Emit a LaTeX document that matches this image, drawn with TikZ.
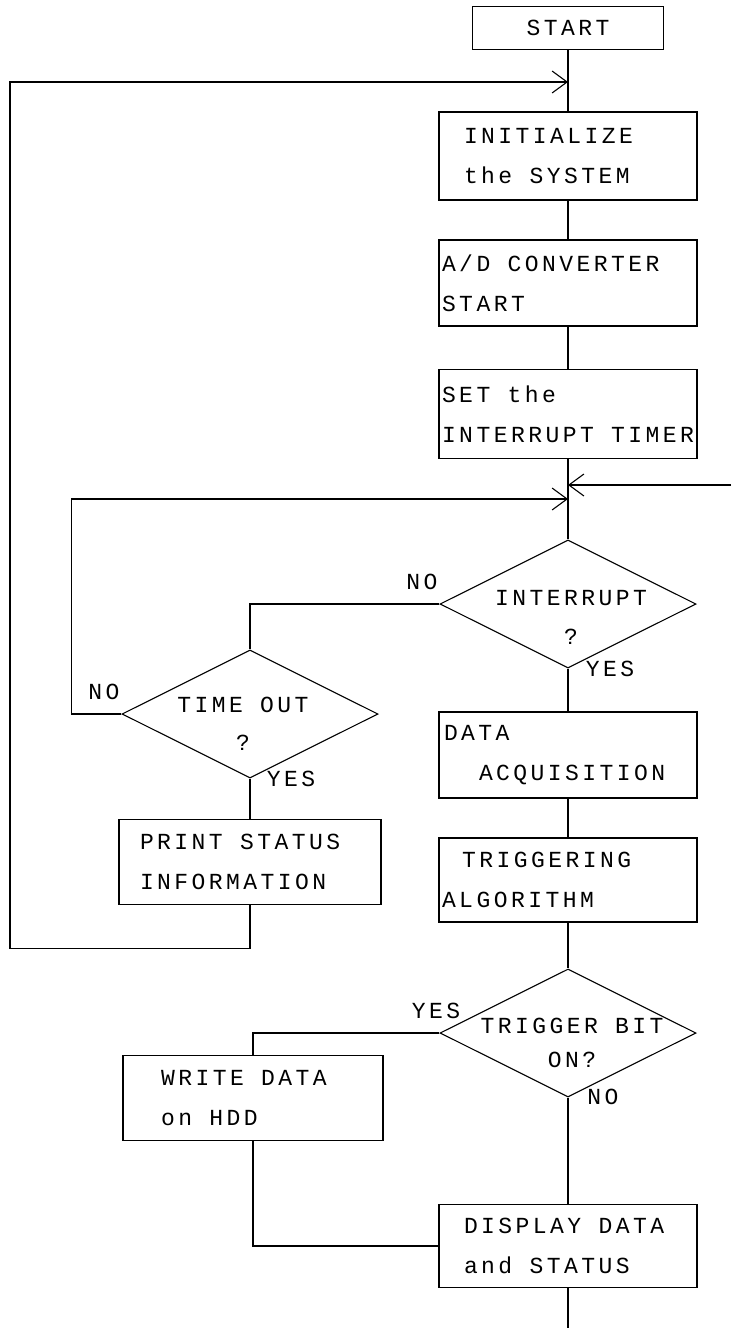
\documentclass[tikz,border=0pt]{standalone}
\usepackage{fontspec}
\setmainfont{Liberation Mono}[LetterSpace=15, WordSpace={1,0,0}]
\usetikzlibrary{shapes.geometric,arrows.meta}

\tikzset{
  caja/.style={draw, line width=1.1pt, minimum width=258pt, minimum height=86pt,
    inner xsep=3pt, inner ysep=0pt, text width=252pt, align=left,
    font=\fontsize{23}{40}\selectfont,
    execute at begin node={\spaceskip=0pt\xspaceskip=0pt\relax}},
  decision/.style={draw, diamond, line width=1.1pt, minimum width=256pt,
    minimum height=128pt, inner sep=0pt},
  texto/.style={align=center, inner sep=0pt, font=\fontsize{23}{39}\selectfont},
  rotulo/.style={inner sep=0pt, font=\fontsize{23}{28}\selectfont},
  linea/.style={line width=1.1pt},
  flecha/.style={line width=1.1pt, -{Straight Barb[length=15pt,width=22pt]}},
}

\begin{document}
\begin{tikzpicture}[x=1pt, y=-1pt]
  % Marco de la hoja
  \useasboundingbox (0,0) rectangle (731,1328);

  % Columna principal
  \node[caja, minimum width=191pt, minimum height=43pt, text width=185pt, align=center] (start) at (568,28) {START};
  \node[caja, minimum height=88pt] (init) at (568,156) {\hspace*{22pt}INITIALIZE\\\hspace*{22pt}the~SYSTEM};
  \node[caja] (adc) at (568,283) {A/D~CONVERTER\\START};
  \node[caja, minimum height=89pt] (set) at (568,414) {SET~the\\INTERRUPT~TIMER};
  \node[decision] (int) at (568,604) {};
  \node[texto] (intt) at (571,617) {INTERRUPT\\?};
  \node[caja] (data) at (568,755) {\hspace*{2pt}DATA\\\hspace*{37pt}ACQUISITION};
  \node[caja, minimum height=84pt] (trig) at (568,880) {\hspace*{20pt}TRIGGERING\\ALGORITHM};
  \node[decision] (tb) at (568,1033) {};
  \node[texto, font=\fontsize{23}{34}\selectfont] (tbt) at (572,1043) {TRIGGER~BIT\\ON?};
  \node[caja, minimum height=83pt] (disp) at (568,1246) {\hspace*{22pt}DISPLAY~DATA\\\hspace*{22pt}and~STATUS};

  % Columna izquierda
  \node[decision] (time) at (250,714) {};
  \node[texto, font=\fontsize{23}{38}\selectfont] (timet) at (243,724) {TIME~OUT\\?};
  \node[caja, minimum width=262pt, minimum height=85pt, text width=256pt] (print) at (250,862) {\hspace*{18pt}PRINT~STATUS\\\hspace*{18pt}INFORMATION};
  \node[caja, minimum width=260pt, minimum height=85pt, text width=254pt] (write) at (253,1098) {\hspace*{35pt}WRITE~DATA\\\hspace*{35pt}on~HDD};

  % Rotulos de las ramas
  \node[rotulo] (no1) at (422,582) {NO};
  \node[rotulo] (si1) at (610,669) {YES};
  \node[rotulo] (no2) at (104,692) {NO};
  \node[rotulo] (si2) at (291,779) {YES};
  \node[rotulo] (si3) at (436,1011) {YES};
  \node[rotulo] (no3) at (603,1097) {NO};

  % Puntos de union
  \coordinate (retorno) at (568,82);
  \coordinate (entrada) at (731,485);
  \coordinate (llegada) at (568,485);
  \coordinate (lazo) at (568,499);
  \coordinate (salida) at (568,1328);

  % Conexiones
  \draw[linea] (start) -- (init);
  \draw[linea] (init) -- (adc);
  \draw[linea] (adc) -- (set);
  \draw[linea] (set) -- (int);
  \draw[flecha] (entrada) -- (llegada);
  \draw[linea] (int.west) -| (time.north);
  \draw[flecha] (time.west) -- ++(-50,0) |- (lazo);
  \draw[linea] (time) -- (print);
  \draw[flecha] (print.south) -- ++(0,43) -- ++(-240,0) |- (retorno);
  \draw[linea] (int) -- (data);
  \draw[linea] (data) -- (trig);
  \draw[linea] (trig) -- (tb);
  \draw[linea] (tb.west) -| (write.north);
  \draw[linea] (tb) -- (disp);
  \draw[linea] (write.south) |- (disp.west);
  \draw[linea] (disp) -- (salida);
\end{tikzpicture}
\end{document}
